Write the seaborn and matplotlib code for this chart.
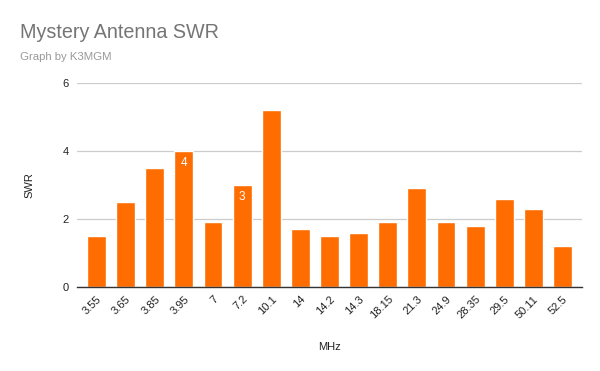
import matplotlib
matplotlib.use("Agg")
import matplotlib.pyplot as plt
import seaborn as sns
import pandas as pd

freqs = ["3.55", "3.65", "3.85", "3.95", "7", "7.2", "10.1", "14", "14.2", "14.3",
         "18.15", "21.3", "24.9", "28.35", "29.5", "50.11", "52.5"]
swr = [1.5, 2.5, 3.5, 4.0, 1.9, 3.0, 5.2, 1.7, 1.5, 1.6, 1.9, 2.9, 1.9, 1.8, 2.6, 2.3, 1.2]
labeled = {"3.95": "4", "7.2": "3"}

df = pd.DataFrame({"MHz": freqs, "SWR": swr})

sns.set_theme(style="white")
plt.rcParams['font.family'] = ['Liberation Sans', 'DejaVu Sans']

fig = plt.figure(figsize=(6, 3.71), dpi=100)
ax = fig.add_axes([77 / 600, (371 - 287) / 371, (582 - 77) / 600, (287 - 83) / 371])

sns.barplot(data=df, x="MHz", y="SWR", color="#FF6D01", saturation=1, width=0.65, ax=ax, zorder=3)

pad = 5 / 29.1
ax.set_xlim(-0.5 - pad, len(freqs) - 0.5 + pad)
ax.set_ylim(0, 6)
ax.set_yticks([0, 2, 4, 6])
ax.yaxis.grid(True, color="#cccccc", linewidth=0.9, zorder=0)
ax.set_axisbelow(True)
for s in ["top", "right", "left"]:
    ax.spines[s].set_visible(False)
ax.spines["bottom"].set_color("#333333")
ax.spines["bottom"].set_linewidth(1.0)
ax.spines["bottom"].set_zorder(4)
ax.tick_params(axis="both", length=0, labelsize=8, colors="#222222")
ax.tick_params(axis="y", pad=6)
for lbl in ax.get_xticklabels():
    lbl.set_rotation(45)
    lbl.set_ha("right")
    lbl.set_rotation_mode("anchor")
ax.tick_params(axis="x", pad=5)

ax.set_xlabel("MHz", fontsize=8, color="#222222", labelpad=15)
ax.set_ylabel("SWR", fontsize=8, color="#222222", labelpad=20)

for i, (f, v) in enumerate(zip(freqs, swr)):
    if f in labeled:
        ax.text(i, v - 0.35, labeled[f], ha="center", va="center", color="white",
                fontsize=8.5, zorder=5)

fig.text(20 / 600, 1 - 33 / 371, "Mystery Antenna SWR", fontsize=14.2, color="#757575",
         ha="left", va="center")
fig.text(20 / 600, 1 - 57 / 371, "Graph by K3MGM", fontsize=8.2, color="#999999",
         ha="left", va="center")

fig.savefig("out.png", dpi=100)
